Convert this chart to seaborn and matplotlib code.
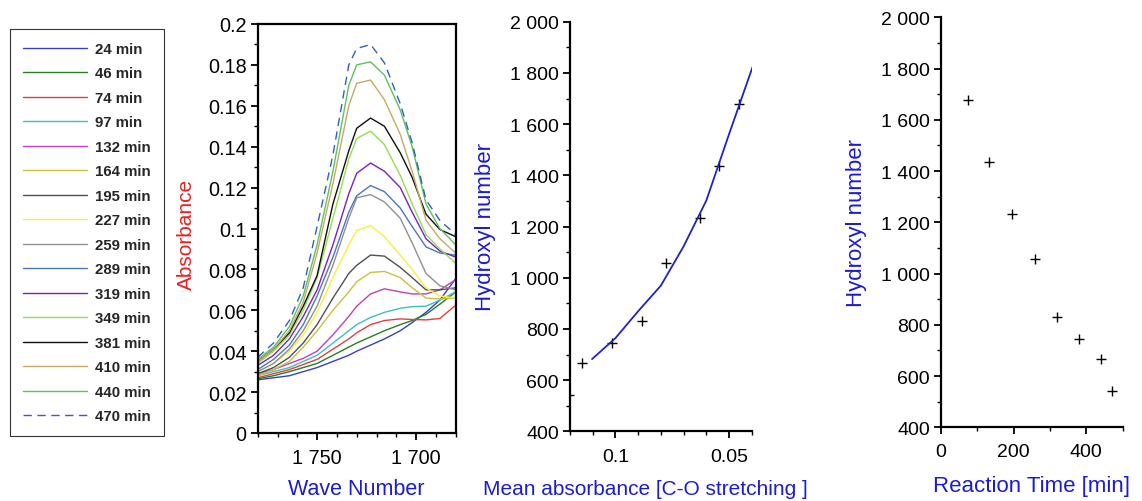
import numpy as np
import pandas as pd
import matplotlib
matplotlib.use("Agg")
import matplotlib.pyplot as plt
from matplotlib.ticker import MultipleLocator, FuncFormatter, FixedLocator
from matplotlib.lines import Line2D
import seaborn as sns

# ---------------- data ----------------
wave_number = [1780, 1772, 1764, 1757, 1750, 1742, 1734, 1730, 1723, 1716, 1708, 1702, 1695, 1688, 1680]

times = ["24 min", "46 min", "74 min", "97 min", "132 min", "164 min", "195 min", "227 min",
         "259 min", "289 min", "319 min", "349 min", "381 min", "410 min", "440 min", "470 min"]

abs_24  = [0.026, 0.027, 0.028, 0.030, 0.032, 0.035, 0.038, 0.040, 0.043, 0.046, 0.050, 0.054, 0.059, 0.065, 0.0755]
abs_46  = [0.0265, 0.028, 0.030, 0.032, 0.034, 0.038, 0.042, 0.044, 0.047, 0.050, 0.053, 0.055, 0.058, 0.063, 0.069]
abs_74  = [0.027, 0.029, 0.031, 0.0335, 0.036, 0.041, 0.046, 0.049, 0.053, 0.055, 0.0558, 0.0555, 0.0553, 0.056, 0.0625]
abs_97  = [0.028, 0.030, 0.032, 0.035, 0.038, 0.044, 0.050, 0.053, 0.0565, 0.059, 0.061, 0.0618, 0.062, 0.065, 0.069]
abs_132 = [0.029, 0.031, 0.034, 0.0365, 0.040, 0.048, 0.057, 0.062, 0.068, 0.0705, 0.069, 0.068, 0.068, 0.070, 0.075]
abs_164 = [0.028, 0.031, 0.035, 0.042, 0.050, 0.060, 0.069, 0.074, 0.0785, 0.079, 0.076, 0.071, 0.066, 0.0655, 0.066]
abs_195 = [0.029, 0.032, 0.037, 0.044, 0.053, 0.066, 0.078, 0.082, 0.087, 0.0865, 0.081, 0.076, 0.070, 0.070, 0.071]
abs_227 = [0.030, 0.034, 0.040, 0.048, 0.059, 0.076, 0.092, 0.099, 0.1015, 0.096, 0.087, 0.080, 0.071, 0.067, 0.066]
abs_259 = [0.030, 0.034, 0.041, 0.050, 0.062, 0.082, 0.105, 0.115, 0.1166, 0.113, 0.105, 0.093, 0.078, 0.072, 0.070]
abs_289 = [0.031, 0.036, 0.043, 0.053, 0.067, 0.086, 0.108, 0.116, 0.121, 0.118, 0.110, 0.101, 0.091, 0.088, 0.087]
abs_319 = [0.033, 0.038, 0.046, 0.057, 0.070, 0.092, 0.117, 0.127, 0.132, 0.128, 0.120, 0.108, 0.095, 0.089, 0.086]
abs_349 = [0.034, 0.040, 0.048, 0.060, 0.076, 0.105, 0.134, 0.144, 0.1476, 0.141, 0.126, 0.112, 0.097, 0.090, 0.083]
abs_381 = [0.035, 0.041, 0.049, 0.062, 0.077, 0.112, 0.138, 0.149, 0.154, 0.150, 0.137, 0.125, 0.107, 0.0995, 0.096]
abs_410 = [0.035, 0.041, 0.050, 0.064, 0.088, 0.122, 0.160, 0.171, 0.1726, 0.163, 0.146, 0.128, 0.104, 0.095, 0.088]
abs_440 = [0.036, 0.042, 0.052, 0.067, 0.092, 0.128, 0.170, 0.180, 0.1815, 0.175, 0.158, 0.140, 0.112, 0.100, 0.092]
abs_470 = [0.037, 0.044, 0.055, 0.071, 0.101, 0.136, 0.180, 0.188, 0.190, 0.181, 0.161, 0.142, 0.114, 0.104, 0.097]

spectra = [abs_24, abs_46, abs_74, abs_97, abs_132, abs_164, abs_195, abs_227,
           abs_259, abs_289, abs_319, abs_349, abs_381, abs_410, abs_440, abs_470]

line_colors = ["#3c3cc8", "#238023", "#e04040", "#3cc0c0", "#c040c0", "#c8c040", "#505050", "#f8f040",
               "#909090", "#4a78b8", "#7a20c8", "#90e050", "#101010", "#c8a868", "#60c060", "#3060c0"]

# hydroxyl numbers vs mean absorbance and reaction time
reaction_time = [74, 132, 195, 259, 319, 381, 440, 470]
hydroxyl_number = [1677, 1437, 1233, 1056, 832, 745, 668, 543]
mean_absorbance = [0.0455, 0.0546, 0.0628, 0.0777, 0.0881, 0.1015, 0.1149, 0.1203]

fit_absorbance = [0.1103, 0.1, 0.09, 0.08, 0.07, 0.06, 0.05, 0.0393]
fit_hydroxyl = [682, 764, 869, 969, 1122, 1301, 1560, 1831]

# ---------------- style ----------------
sns.set_theme(style="ticks")
plt.rcParams["font.family"] = ["Liberation Sans", "DejaVu Sans"]
plt.rcParams["axes.linewidth"] = 1.6
plt.rcParams["xtick.major.width"] = 1.3
plt.rcParams["ytick.major.width"] = 1.3
plt.rcParams["xtick.minor.width"] = 1.0
plt.rcParams["ytick.minor.width"] = 1.0
plt.rcParams["xtick.major.size"] = 5
plt.rcParams["ytick.major.size"] = 5
plt.rcParams["xtick.minor.size"] = 3
plt.rcParams["ytick.minor.size"] = 3
plt.rcParams["xtick.color"] = "black"
plt.rcParams["ytick.color"] = "black"
plt.rcParams["axes.edgecolor"] = "black"

BLUE = "#1c1cd0"
RED = "#e82020"

fig = plt.figure(figsize=(11.42, 5.02), dpi=100)
W, H = 1142, 502


def axes_px(left, right, top, bottom):
    return fig.add_axes([left / W, 1 - bottom / H, (right - left) / W, (bottom - top) / H])


def sep_fmt(v, pos):
    if abs(v - round(v)) < 1e-9:
        return f"{int(round(v)):,}".replace(",", " ")
    return f"{v:g}"


# ---------------- panel 1: spectra ----------------
ax1 = axes_px(257.7, 455.7, 25, 434)
rows = []
for lab, vals in zip(times, spectra):
    for w, a in zip(wave_number, vals):
        rows.append({"wn": w, "abs": a, "time": lab})
df = pd.DataFrame(rows)
palette = dict(zip(times, line_colors))
dashes = {t: "" for t in times}
dashes["470 min"] = (6, 4)
sns.lineplot(data=df, x="wn", y="abs", hue="time", style="time", palette=palette,
             dashes=dashes, estimator=None, sort=False, legend=False, linewidth=1.0, ax=ax1)
ax1.set_xlim(1780, 1680)
ax1.set_ylim(0, 0.2)
ax1.xaxis.set_major_locator(FixedLocator([1750, 1700]))
ax1.xaxis.set_minor_locator(MultipleLocator(10))
ax1.yaxis.set_major_locator(MultipleLocator(0.02))
ax1.yaxis.set_minor_locator(MultipleLocator(0.01))
ax1.xaxis.set_major_formatter(FuncFormatter(sep_fmt))
ax1.yaxis.set_major_formatter(FuncFormatter(lambda v, p: "0" if abs(v) < 1e-12 else f"{v:.2f}".rstrip("0")))
ax1.tick_params(axis="both", which="both", direction="out")
ax1.tick_params(axis="y", which="major", labelsize=14.3, pad=3)
ax1.tick_params(axis="x", which="major", labelsize=14.3, pad=6)
ax1.set_xlabel("Wave Number", color=BLUE, fontsize=15.5)
ax1.xaxis.set_label_coords(0.5, -0.110)
ax1.set_ylabel("Absorbance", color=RED, fontsize=15)
ax1.yaxis.set_label_coords(-0.312, 0.487)

# legend
handles = []
for lab, col in zip(times, line_colors):
    ls = (0, (6, 4)) if lab == "470 min" else "-"
    handles.append(Line2D([0], [0], color=col, lw=1.0, linestyle=ls))
leg = fig.legend(handles, times, loc="upper left", bbox_to_anchor=(10 / W, 1 - 30 / H),
                 bbox_transform=fig.transFigure, frameon=True, fancybox=False,
                 handlelength=4.27, handletextpad=0.55, labelspacing=0.70, borderpad=0.85,
                 borderaxespad=0, prop={"size": 10.8, "weight": "bold"})
leg.get_frame().set_edgecolor("black")
leg.get_frame().set_linewidth(0.8)

# ---------------- panel 2: hydroxyl vs absorbance ----------------
ax2 = axes_px(570, 751.7, 22.7, 432.3)
sns.lineplot(x=fit_absorbance, y=fit_hydroxyl, color="#2222c0", linewidth=1.3, sort=False,
             estimator=None, ax=ax2)
sns.scatterplot(x=mean_absorbance, y=hydroxyl_number, marker="+", color="black", s=60,
                linewidth=1.0, ax=ax2)
ax2.set_xlim(0.12, 0.04)
ax2.set_ylim(400, 2000)
ax2.xaxis.set_major_locator(FixedLocator([0.1, 0.05]))
ax2.xaxis.set_minor_locator(MultipleLocator(0.01))
ax2.yaxis.set_major_locator(MultipleLocator(200))
ax2.yaxis.set_minor_locator(MultipleLocator(100))
ax2.yaxis.set_major_formatter(FuncFormatter(sep_fmt))
ax2.xaxis.set_major_formatter(FuncFormatter(lambda v, p: f"{v:g}"))
ax2.tick_params(axis="y", which="major", labelsize=14, pad=3)
ax2.tick_params(axis="x", which="major", labelsize=14, pad=7)
sns.despine(ax=ax2)
ax2.set_xlabel("Mean absorbance [C-O stretching ]", color=BLUE, fontsize=15)
ax2.xaxis.set_label_coords(0.415, -0.116)
ax2.set_ylabel("Hydroxyl number", color=BLUE, fontsize=16)
ax2.yaxis.set_label_coords(-0.407, 0.5)

# ---------------- panel 3: hydroxyl vs time ----------------
ax3 = axes_px(941, 1122.7, 18.3, 428.3)
sns.scatterplot(x=reaction_time, y=hydroxyl_number, marker="+", color="black", s=60,
                linewidth=1.0, ax=ax3)
ax3.set_xlim(0, 500)
ax3.set_ylim(400, 2000)
ax3.xaxis.set_major_locator(MultipleLocator(200))
ax3.xaxis.set_minor_locator(MultipleLocator(100))
ax3.yaxis.set_major_locator(MultipleLocator(200))
ax3.yaxis.set_minor_locator(MultipleLocator(100))
ax3.yaxis.set_major_formatter(FuncFormatter(sep_fmt))
ax3.tick_params(axis="y", which="major", labelsize=14, pad=3)
ax3.tick_params(axis="x", which="major", labelsize=14, pad=6)
sns.despine(ax=ax3)
ax3.set_xlabel("Reaction Time [min]", color=BLUE, fontsize=16)
ax3.xaxis.set_label_coords(0.5, -0.117)
ax3.set_ylabel("Hydroxyl number", color=BLUE, fontsize=16)
ax3.yaxis.set_label_coords(-0.407, 0.5)

fig.savefig("out.png", dpi=100)
